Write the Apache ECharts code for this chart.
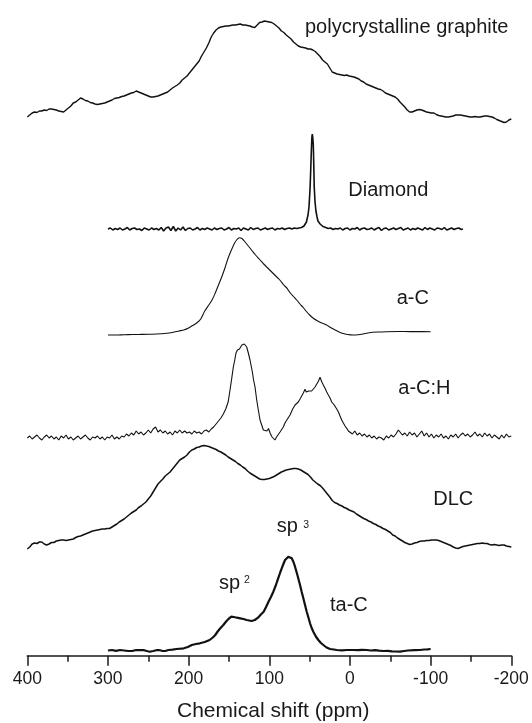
<!DOCTYPE html>
<html>
<head>
<meta charset="utf-8">
<script src="https://cdn.jsdelivr.net/npm/echarts@6/dist/echarts.min.js"></script>
<style>
  html, body { margin: 0; padding: 0; background: #fff; }
  #chart { width: 532px; height: 723px; }
</style>
</head>
<body>
<div id="chart"></div>
<script>
// 13C NMR spectra of carbon materials: [chemical shift (ppm), intensity (a.u.)]
const graphite = [
  [400,8],[397,10],[394,12],[391,13],[388,12.5],[385,14],[382,14],[379,15],[376,14.5],[373,16],[370,16],[367,15.5],
  [364,15],[361,14],[358,13.5],[355,13],[352,15],[349,17],[346,19],[343,22],[340,23],[337,25],[334,27],[331,26],
  [328,24.5],[325,24],[322,22.5],[319,22],[316,21],[313,20.5],[310,21],[307,21.5],[304,22],[301,23],[298,24],[295,25],
  [292,26.5],[289,27],[286,27.5],[283,28.5],[280,29],[277,30],[274,31],[271,32],[268,32.5],[265,34],[262,33],[259,32],
  [256,31],[253,30],[250,29],[247,28],[244,28],[241,28.5],[238,29],[235,30],[232,31],[229,32],[226,33],[223,35],
  [220,37],[217,38.5],[214,40],[211,42],[208,45],[205,47],[202,49],[199,52],[196,55],[193,58],[190,61],[187,64],
  [184,69],[181,73],[178,77],[175,82],[172,88],[169,92],[166,95],[163,97],[160,98],[157,98.5],[154,99],[151,99],
  [148,99.5],[145,100],[142,100],[139,100.5],[136,101],[133,100],[130,100],[127,99.5],[124,99],[121,98],[118,97.5],[115,100],
  [112,102.5],[109,103],[106,104],[103,103.5],[100,103],[97,102.5],[94,101],[91,99],[88,97],[85,94],[82,92.5],[79,90],
  [76,88],[73,86],[70,83],[67,81],[64,79],[61,78],[58,77.5],[55,77],[52,76],[49,76],[46,75],[43,73.5],
  [40,71],[37,68.5],[34,65],[31,63],[28,61],[25,57],[22,53],[19,52],[16,51],[13,50.5],[10,50],[7,49.5],
  [4,50],[1,49],[-2,48.5],[-5,48],[-8,47],[-11,46],[-14,44],[-17,43],[-20,41],[-23,40],[-26,39],[-29,38],
  [-32,37],[-35,36],[-38,35.5],[-41,34],[-44,32],[-47,31],[-50,30],[-53,29],[-56,28],[-59,26],[-62,23],[-65,20.5],
  [-68,18],[-71,15],[-74,13],[-77,13],[-80,14],[-83,15],[-86,15.5],[-89,15],[-92,14],[-95,13],[-98,12.5],[-101,12],
  [-104,12],[-107,10.5],[-110,9.5],[-113,9],[-116,8.5],[-119,8],[-122,8],[-125,8.5],[-128,9],[-131,10],[-134,10],[-137,10],
  [-140,9.5],[-143,9],[-146,8.5],[-149,8],[-152,8],[-155,8.5],[-158,8],[-161,8],[-164,8.5],[-167,9],[-170,9],[-173,8.5],
  [-176,8],[-179,7],[-182,5.5],[-185,4.5],[-188,3.5],[-191,2.5],[-194,3],[-197,5],[-200,6]
];

const diamond = [
  [300,0],[297,1],[294,-1],[291,0.5],[288,-0.5],[285,1],[282,-1],[279,0],[276,1.5],[273,-1],[270,0.5],[267,1],
  [264,-0.5],[261,0],[258,-1.5],[255,1],[252,0],[249,-1],[246,1],[243,-0.5],[240,0.5],[237,-1],[234,1.5],[231,-2],
  [228,1],[225,2],[222,-1.5],[219,2.5],[216,-2],[213,1],[210,-1],[207,2],[204,-1.5],[201,0.5],[198,1],[195,-1],
  [192,0],[189,1.5],[186,-1],[183,0.5],[180,-0.5],[177,1],[174,0],[171,-1],[168,1],[165,-0.5],[162,0.5],[159,1],
  [156,-1],[153,0],[150,1.5],[147,-1],[144,0.5],[141,0],[138,1],[135,-1.5],[132,1],[129,0],[126,-1],[123,1.5],
  [120,-0.5],[117,0.5],[114,1],[111,-1],[108,0],[105,1],[102,-0.5],[99,0.5],[96,1],[93,-1],[90,0.5],[87,0],
  [84,1],[81,-0.5],[78,0.5],[75,1],[72,0],[69,1],[66,0.5],[63,1],[60,1.5],[57,3],[54,7],[52,14],
  [50.8,22],[49.5,40],[48.7,58],[47.8,80],[47.2,92],[46.7,95],[46.2,92],[45.5,85],[44.8,62],[44.3,42],[43.3,27],[42.2,18],
  [40.8,12],[39.7,8],[37,5],[33.5,2.5],[30,1.5],[27,0.5],[24,1],[21,-0.5],[18,0.5],[15,0],[12,1],[9,-1],
  [6,0.5],[3,1],[0,-1],[-3,0.5],[-6,0],[-9,1.5],[-12,-1],[-15,0.5],[-18,1],[-21,-0.5],[-24,0],[-27,1],
  [-30,-1],[-33,0.5],[-36,1.5],[-39,-1.5],[-42,0.5],[-45,1],[-48,-1],[-51,0],[-54,1],[-57,-0.5],[-60,0.5],[-63,1.5],
  [-66,-1],[-69,0],[-72,1],[-75,-1],[-78,0.5],[-81,-0.5],[-84,1],[-87,0],[-90,-1],[-93,1.5],[-96,-0.5],[-99,1],
  [-102,0],[-105,-1],[-108,1],[-111,0.5],[-114,-0.5],[-117,1.5],[-120,-1],[-123,0],[-126,1],[-129,-0.5],[-132,0.5],[-135,1],
  [-138,-0.5],[-140,0]
];

const amorphousC = [
  [300,0],[290,0],[280,0.3],[270,0.5],[260,0.6],[250,0.7],[240,1],[230,1.5],[220,2.5],[212,4],[206,5],[200,7],
  [195,9.5],[190,12],[185,16],[180,24],[175,30],[171,35],[167,42],[163,50],[159,58],[155,67],[151,77],[147,85],
  [143,92],[140,95.5],[137,97.3],[134,96.5],[131,94],[127,90],[122,85],[117,80],[112,75.5],[107,71],[102,67],[97,63],
  [92,59],[87,55],[82,50],[78,46.7],[74,42],[70,38.5],[66,35],[62,31],[58,27.5],[54,23.5],[50,20],[45,16.5],
  [40,14],[35,12],[29,10],[23,7],[17,4.5],[12,2.5],[8,1.5],[3,0.5],[-4,0],[-10,0.3],[-16,1],[-24,2.3],
  [-35,3],[-45,3.3],[-60,3.5],[-75,3.4],[-90,3.4],[-100,3.3]
];

const hydrogenatedC = [
  [400,0],[397,2],[394,-1],[391,1],[388,3],[385,0],[382,-2],[379,1],[376,3],[373,0],[370,2],[367,-1],
  [364,1],[361,-2],[358,2],[355,0],[352,3],[349,-1],[346,1],[343,-2],[340,0],[337,2],[334,-1],[331,1],
  [328,3],[325,0],[322,-2],[319,1],[316,0],[313,2],[310,-1],[307,1],[304,-2],[301,1],[298,0],[295,3],
  [292,-1],[289,1],[286,-1],[283,2],[280,1],[277,4],[274,2],[271,5],[268,3],[265,7],[262,4],[259,6],
  [256,3],[253,5],[250,8],[247,5],[244,9],[241,11],[238,6],[235,8],[232,5],[229,7],[226,4],[223,6],
  [220,3],[217,7],[214,5],[211,8],[208,5],[205,7],[202,5],[199,6],[196,4],[193,7],[190,5],[187,6],
  [184,4],[181,7],[178,8],[175,6],[172,9],[169,11],[166,14],[163,17],[160,20],[157,24],[154,29],[151,36],
  [148.7,48],[146.5,60],[144.6,71],[142.8,78],[141.3,85],[139.5,88],[138.4,90],[137,89],[135.5,91],[134,93],[132.2,95],[131,94],
  [130.1,93],[128,91],[127,88],[126,85],[123.9,78],[121,66],[119.5,58],[117.7,51],[115.6,38],[113.6,28],[111.5,18],[109.4,13],
  [107.4,8],[105,6],[103,7],[101,9.5],[99,5],[97,1.5],[95,0],[93,-2],[91,1],[88.8,3],[86.7,6],[84.7,8],
  [82.6,11],[80.6,15],[77.5,19],[74.3,23],[71,29],[68.1,33],[64,36],[61.9,39],[59.8,41],[57.8,45],[55.7,48.7],[54.2,46],
  [52.8,44.7],[51,47],[49.5,46.3],[47.5,47],[45.4,48],[43.3,51],[41.2,53],[39,57],[37.1,60.7],[35,56.3],[33,53],[30.9,49.7],
  [28.8,46],[26.8,43],[24.7,40],[22.6,36],[19.5,33],[16.4,29],[14.3,26],[12.3,22],[10.2,18],[8.2,15],[6.1,12],[4,9.7],
  [2,7],[0,6],[-3,4],[-6,7],[-9,3],[-12,5],[-15,2],[-18,4],[-21,1],[-24,3],[-27,0],[-30,2],
  [-33,-1],[-36,1],[-39,0],[-42,-2],[-45,2],[-48,0],[-51,3],[-54,1],[-57,4],[-60,8],[-62,10],[-65,3],
  [-68,5],[-71,2],[-74,6],[-77,3],[-80,5],[-83,1],[-86,4],[-89,7],[-92,2],[-95,5],[-98,1],[-101,4],
  [-104,0],[-107,3],[-110,1],[-113,4],[-116,0],[-119,2],[-122,-1],[-125,3],[-128,1],[-131,4],[-134,0],[-137,3],
  [-140,5],[-143,2],[-146,4],[-149,1],[-152,3],[-155,6],[-158,2],[-161,4],[-164,1],[-167,5],[-170,2],[-173,4],
  [-176,0],[-179,3],[-182,1],[-185,-1],[-188,3],[-191,0],[-194,4],[-197,1],[-200,2]
];

const dlc = [
  [400,1],[397,3],[394,6],[391,7],[388,6.5],[385,8],[382,8],[379,6],[376,5],[373,6],[370,7.5],[367,7.5],
  [364,9],[361,9.5],[358,10],[355,10],[352,9.5],[349,10],[346,10.5],[343,11],[340,12.5],[337,13.5],[334,14],[331,15],
  [328,16],[325,17],[322,18],[319,19],[316,19.5],[313,20],[310,20.5],[307,21],[304,21],[301,21.5],[298,21.5],[295,23],
  [292,24.5],[289,26],[286,28],[283,29.5],[280,31],[277,33],[274,35],[271,37],[268,38.5],[265,40],[262,42.5],[259,44],
  [256,46],[253,48],[250,51],[247,54],[244,58],[241,62],[238,66],[235,68.5],[232,71],[229,74],[226,76],[223,78],
  [220,81],[217,84],[214,87],[211,90],[208,91.5],[205,93],[202,95],[199,98],[196,100],[193,101],[190,102.5],[187,103],
  [184,104],[181,104.5],[178,104],[175,103.5],[172,102.5],[169,101.5],[166,100.5],[163,99],[160,98],[157,96.5],[154,95],[151,93],
  [148,91.5],[145,90],[142,88.5],[139,86.5],[136,85],[133,83],[130,81.5],[127,79],[124,77],[121,75.5],[118,74],[115,72.5],
  [112,71],[109,70.5],[106,70.5],[103,71],[100,71.5],[97,72.5],[94,73.5],[91,75],[88,76.5],[85,78],[82,79],[79,80],
  [76,80.5],[73,81],[70,81.5],[67,81.5],[64,81],[61,80],[58,78.5],[55,77],[52,75.5],[49,73],[46,70],[43,68],
  [40,66],[37,64.5],[34,62],[31,59],[28,56],[25,53],[22,49.5],[19,47.5],[16,46.5],[13,45],[10,44],[7,42.5],
  [4,41.5],[1,40],[-2,39],[-5,38],[-8,36],[-11,34.5],[-14,33],[-17,31.5],[-20,30.5],[-23,29],[-26,28],[-29,26.5],
  [-32,25.5],[-35,24],[-38,23],[-41,21.5],[-44,20.5],[-47,19],[-50,17.5],[-53,15],[-56,14],[-59,12],[-62,10.5],[-65,9],
  [-68,7.5],[-71,6.5],[-74,5.5],[-77,6],[-80,7],[-83,7.5],[-86,8.5],[-89,9],[-92,9],[-95,9.5],[-98,9.5],[-101,10],
  [-104,10],[-107,10],[-110,9.5],[-113,8.5],[-116,7.5],[-119,6.5],[-122,5.5],[-125,4.5],[-128,3],[-131,2],[-134,1.5],[-137,2.5],
  [-140,3.5],[-143,4],[-146,4.5],[-149,5],[-152,5.5],[-155,6],[-158,6.5],[-161,6.5],[-164,7],[-167,6.5],[-170,6.5],[-173,5.5],
  [-176,5],[-179,5.5],[-182,5],[-185,4.5],[-188,5],[-191,5],[-194,4],[-197,3.5],[-200,3]
];

const tetrahedralC = [
  [300,0],[295,0.5],[290,-0.3],[285,0.5],[280,0],[275,-0.5],[270,-0.5],[265,0.5],[260,0.3],[256,0.5],[252,-0.5],[248,-1.2],
  [244,-0.5],[240,0.3],[237,0.5],[233,-0.3],[229,-0.5],[225,0.5],[220,0.8],[215,1.5],[210,1.8],[206,2.2],[201,3.5],[196,5.5],
  [191,6.5],[186,7.2],[180,8.5],[174,10.5],[170,13],[167,15.5],[164,19],[161,22],[157,25.5],[153,29.5],[150,32],[147,33.8],
  [144,33.5],[140,32.8],[136,32.2],[132,31.5],[128,30.5],[125,30],[122,29.5],[118,30.5],[114,32.8],[111,35.5],[107,38.8],[104,43.5],
  [101,48.8],[98,53.5],[95,58.8],[92,65],[89,72.2],[86.5,78],[84.6,82.2],[82.5,86.5],[80.5,90.5],[78.5,92.5],[76.4,93.8],[74.3,93.5],
  [72.2,92.2],[70,88.5],[68.1,83.8],[65,75],[61.9,65.5],[59.8,58.5],[57.8,52.2],[55.7,45.5],[53.6,38.8],[51.5,33],[49.5,27.2],[47.5,22.5],
  [45.4,18.8],[42.3,14],[39.2,10.5],[36,7.5],[33,5.5],[29,3],[24.7,1.5],[20,1],[16.4,0.5],[10,0.2],[4,0.5],[-4,0.5],
  [-10,0.3],[-15,0.6],[-20.7,0.5],[-26,0],[-31,0.3],[-36,-0.2],[-41.3,-0.5],[-47,-0.3],[-52,-0.8],[-57,-1],[-62.1,-1.2],[-67,-0.5],
  [-72,0],[-74.4,0.2],[-80,0.3],[-86.8,0.5],[-92,1],[-96,1.2],[-100,1.5]
];

const sampleNames = ['polycrystalline graphite', 'Diamond', 'a-C', 'a-C:H', 'DLC', 'ta-C'];
const bandNames = ['sp', 'sp'];
const bandOrders = ['3', '2'];
const axisTitle = 'Chemical shift (ppm)';

// ---- layout / styling ----
const FONT = '"Liberation Sans", Arial, Helvetica, sans-serif';
const INK = '#1a1a1a';
const PLOT_H = 655.7;                              // y-axis span (1 unit per pixel of plot height)
const stackOffset = [530.7, 426.7, 320.7, 217.7, 105.7, 5.2];
const traceWidth = [1.4, 1.6, 1.1, 1.1, 1.5, 2.2];
const traces = [graphite, diamond, amorphousC, hydrogenatedC, dlc, tetrahedralC];

const chart = echarts.init(document.getElementById('chart'), null, { renderer: 'canvas' });

const series = traces.map((d, i) => ({
  type: 'line',
  name: sampleNames[i],
  data: d.map(p => [p[0], p[1] + stackOffset[i]]),
  showSymbol: false,
  symbol: 'none',
  smooth: i === 2 ? 0.3 : false,
  clip: false,
  lineStyle: { color: '#111', width: traceWidth[i] },
  silent: true
}));

function label(text, x, y, size, align) {
  return {
    type: 'text', x: x, y: y, silent: true,
    style: {
      text: text, fill: INK, font: size + 'px ' + FONT,
      align: align || 'left', verticalAlign: 'middle'
    }
  };
}

chart.setOption({
  animation: false,
  backgroundColor: '#fff',
  grid: { left: 27.3, right: 20.7, top: 0, bottom: 67.3 },
  xAxis: {
    type: 'value', inverse: true, min: -200, max: 400, interval: 100,
    axisLine: { lineStyle: { color: INK, width: 1.5 } },
    axisTick: { length: 10, lineStyle: { color: INK, width: 1.5 } },
    minorTick: { show: true, splitNumber: 2, length: 6, lineStyle: { color: INK, width: 1.5 } },
    splitLine: { show: false },
    axisLabel: { color: INK, fontSize: 17.5, fontFamily: FONT, margin: 14 }
  },
  yAxis: { type: 'value', min: 0, max: PLOT_H, show: false },
  series: series,
  graphic: [
    label(sampleNames[0], 305, 27.4, 20),
    label(sampleNames[1], 348.3, 190.4, 20),
    label(sampleNames[2], 396.7, 298, 20),
    label(sampleNames[3], 398.3, 388.1, 20),
    label(sampleNames[4], 433.3, 499.1, 20),
    label(sampleNames[5], 330, 605.4, 20),
    label(bandNames[0], 276.7, 526.4, 20),
    label(bandOrders[0], 303.3, 525.4, 10.5),
    label(bandNames[1], 219, 583.1, 20),
    label(bandOrders[1], 244, 580.5, 10.5),
    label(axisTitle, 273.3, 711, 21, 'center')
  ]
});
</script>
</body>
</html>
